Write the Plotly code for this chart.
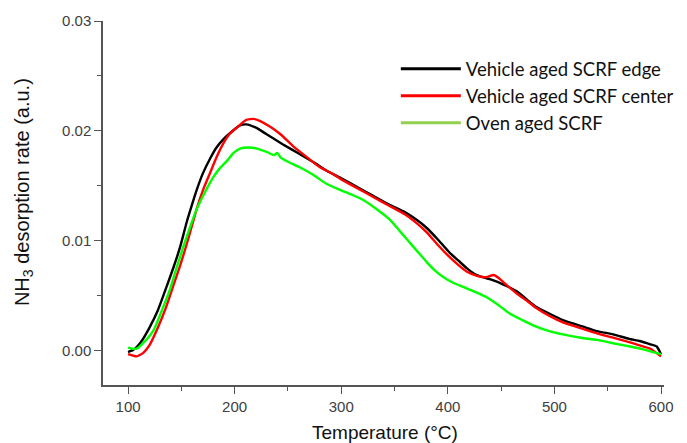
import plotly.graph_objects as go

# Temperature (°C) and NH3 desorption rate (a.u.)
t_edge = [100, 105, 112, 120, 128, 136, 143, 149, 155, 160, 165, 170, 177, 183, 190, 198, 205, 211, 220, 230, 245,
          261, 275, 286, 300, 315, 330, 345, 360, 371, 380, 390, 402, 410, 418, 425, 433, 440, 446, 455, 465,
          475, 483, 495, 508, 527, 540, 555, 570, 580, 590, 596, 600]
v_edge = [-0.0001, 0.0001, 0.0008, 0.0021, 0.0037, 0.0058, 0.0077, 0.0095, 0.0117, 0.0133, 0.0148, 0.0161, 0.0175,
          0.0185, 0.0193, 0.0200, 0.0205, 0.0206, 0.0203, 0.0197, 0.0188, 0.0179, 0.0171, 0.0164, 0.0157,
          0.0149, 0.0141, 0.0133, 0.0126, 0.0119, 0.0112, 0.0102, 0.0089, 0.0082, 0.0075, 0.0070, 0.0067,
          0.0065, 0.0063, 0.0059, 0.0054, 0.0046, 0.0040, 0.0034, 0.0028, 0.0022, 0.0018, 0.0015, 0.0011,
          0.0009, 0.0006, 0.0004, -0.0003]

t_center = [100, 104, 108, 114, 120, 127, 135, 142, 149, 155, 160, 165, 171, 177, 183, 189, 195, 202, 211, 218,
            224, 233, 243, 255, 268, 280, 292, 300, 315, 330, 345, 360, 371, 380, 390, 402, 410, 418, 428, 436,
            443, 448, 455, 465, 475, 483, 495, 508, 527, 540, 555, 570, 580, 590, 600]
v_center = [-0.0003, -0.0004, -0.0005, -0.0002, 0.0005, 0.0019, 0.0038, 0.0058, 0.0078, 0.0097, 0.0114, 0.0131,
            0.0148, 0.0162, 0.0176, 0.0188, 0.0197, 0.0203, 0.0210, 0.0211, 0.0209, 0.0204, 0.0197, 0.0186,
            0.0176, 0.0167, 0.0161, 0.0156, 0.0148, 0.0140, 0.0132, 0.0124, 0.0116, 0.0108, 0.0097, 0.0085,
            0.0078, 0.0072, 0.0068, 0.0067, 0.0069, 0.0066, 0.0060, 0.0052, 0.0045, 0.0039, 0.0032, 0.0026,
            0.0020, 0.0016, 0.0012, 0.0008, 0.0005, 0.0002, -0.0005]

t_oven = [100, 104, 108, 115, 124, 131, 139, 145, 152, 158, 164, 172, 180, 186, 193, 199, 205, 213, 221, 230,
          237, 240, 243, 250, 261, 274, 286, 300, 310, 321, 333, 346, 354, 362, 371, 380, 388, 396, 405, 415,
          425, 436, 447, 458, 470, 483, 495, 508, 525, 540, 555, 571, 585, 600]
v_oven = [0.0003, 0.0002, 0.0002, 0.0008, 0.0019, 0.0035, 0.0055, 0.0074, 0.0095, 0.0112, 0.0128, 0.0144,
          0.0158, 0.0166, 0.0173, 0.0180, 0.0184, 0.0185, 0.0184, 0.0181, 0.0178, 0.0180, 0.0176, 0.0172,
          0.0167, 0.0160, 0.0152, 0.0146, 0.0142, 0.0137, 0.0129, 0.0119, 0.0110, 0.0101, 0.0091, 0.0081,
          0.0073, 0.0067, 0.0062, 0.0058, 0.0054, 0.0049, 0.0042, 0.0034, 0.0028, 0.0022, 0.0018, 0.0015,
          0.0012, 0.0010, 0.0007, 0.0004, 0.0001, -0.0003]

series_names = ["Vehicle aged SCRF edge", "Vehicle aged SCRF center", "Oven aged SCRF"]
x_ticks = [100, 200, 300, 400, 500, 600]
y_ticks = [0.00, 0.01, 0.02, 0.03]
y_tick_labels = ["0.00", "0.01", "0.02", "0.03"]
x_title = "Temperature (°C)"
y_title = "NH<sub>3</sub> desorption rate (a.u.)"

fig = go.Figure()
for t, v, name, col in [(t_edge, v_edge, series_names[0], "#000000"),
                        (t_center, v_center, series_names[1], "#FF0000"),
                        (t_oven, v_oven, series_names[2], "#00FF00")]:
    fig.add_trace(go.Scatter(x=t, y=v, mode="lines", name=name,
                             line=dict(color=col, width=2.4, shape="spline", smoothing=0.5),
                             showlegend=False))

# legend entries (legend sample colours)
for name, col in zip(series_names, ["#000000", "#FF0000", "#92D050"]):
    fig.add_trace(go.Scatter(x=[None], y=[None], mode="lines", name=name,
                             line=dict(color=col, width=3)))

axis_col = "#555555"
tick_font = dict(family="Liberation Sans, Arial", size=15, color="#404040")
title_font = dict(family="Liberation Sans, Arial", color="#111111")

fig.update_layout(
    width=679, height=435,
    margin=dict(l=95, r=23, t=13, b=58, autoexpand=False),
    paper_bgcolor="white", plot_bgcolor="white",
    showlegend=True,
    legend=dict(x=0.522, y=0.92, xanchor="left", yanchor="top",
                bgcolor="rgba(0,0,0,0)", font=dict(family="Lato, Open Sans", size=18.5, color="#111111"),
                tracegroupgap=0, itemwidth=60),
    xaxis=dict(range=[76.5, 602.8], tickmode="array", tickvals=x_ticks, automargin=False,
               ticks="outside", ticklen=7, tickwidth=1.2, tickcolor=axis_col,
               showline=True, linecolor=axis_col, linewidth=1.5, showgrid=False, zeroline=False,
               tickfont=tick_font,
               minor=dict(ticks="outside", ticklen=4, tickwidth=1.2, tickcolor=axis_col, dtick=50, tick0=0,
                          showgrid=False)),
    yaxis=dict(range=[-0.0031, 0.0300], tickmode="array", tickvals=y_ticks, ticktext=y_tick_labels,
               automargin=False,
               ticks="outside", ticklen=7, tickwidth=1.2, tickcolor=axis_col,
               showline=True, linecolor=axis_col, linewidth=1.5, showgrid=False, zeroline=False,
               tickfont=tick_font,
               minor=dict(ticks="outside", ticklen=4, tickwidth=1.2, tickcolor=axis_col, dtick=0.005, tick0=0,
                          showgrid=False)),
    annotations=[
        dict(text=x_title, xref="paper", yref="paper", x=0.503, y=-0.13, xanchor="center", yanchor="middle",
             showarrow=False, font=dict(size=19, **title_font)),
        dict(text=y_title, xref="paper", yref="paper", x=-0.1426, y=0.53, xanchor="center", yanchor="middle",
             textangle=-90, showarrow=False, font=dict(size=20, **title_font)),
    ],
)

fig.write_html("out.html")
